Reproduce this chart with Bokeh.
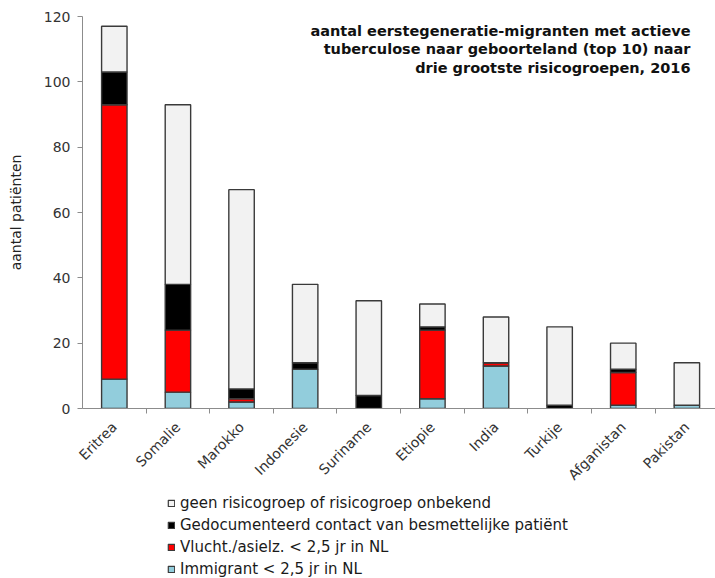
import math
from bokeh.plotting import figure
from bokeh.layouts import column
from bokeh.models import Range1d, FixedTicker, Legend, LegendItem, Label
from bokeh.embed import file_html
from bokeh.resources import INLINE

countries = ["Eritrea", "Somalie", "Marokko", "Indonesie", "Suriname",
             "Etiopie", "India", "Turkije", "Afganistan", "Pakistan"]
immigrant = [9, 5, 2, 12, 0, 3, 13, 0, 1, 1]
vlucht = [84, 19, 1, 0, 0, 21, 1, 0, 10, 0]
contact = [10, 14, 3, 2, 4, 1, 0, 1, 1, 0]
geen = [14, 55, 61, 24, 29, 7, 14, 24, 8, 13]

series_keys = ["immigrant", "vlucht", "contact", "geen"]
series_labels = ["Immigrant < 2,5 jr in NL",
                 "Vlucht./asielz. < 2,5 jr in NL",
                 "Gedocumenteerd contact van besmettelijke patiënt",
                 "geen risicogroep of risicogroep onbekend"]
series_colors = ["#92cddc", "#ff0000", "#000000", "#f2f2f2"]
y_ticks = [0, 20, 40, 60, 80, 100, 120]
title_lines = ["aantal eerstegeneratie-migranten met actieve",
               "tuberculose naar geboorteland (top 10) naar",
               "drie grootste risicogroepen, 2016"]
y_label = "aantal patiënten"

FONT = "DejaVu Sans"
OUTLINE = "#3a3a3a"
x = list(range(len(countries)))
data = dict(x=x, immigrant=immigrant, vlucht=vlucht, contact=contact, geen=geen)

p = figure(frame_width=633, frame_height=392, x_range=Range1d(-0.5, 9.45), y_range=Range1d(0, 120),
           output_backend="svg", toolbar_location=None,
           min_border_left=82, min_border_top=16, min_border_right=0, min_border_bottom=84)
p.outline_line_color = None
p.xgrid.grid_line_color = None
p.ygrid.grid_line_color = None

p.vbar_stack(series_keys, x="x", width=0.4, source=data,
             fill_color=series_colors, line_color=OUTLINE, line_width=1.4)

# axes
p.yaxis.ticker = FixedTicker(ticks=y_ticks)
p.yaxis.axis_label = y_label
p.yaxis.axis_label_text_font = FONT
p.yaxis.axis_label_text_font_style = "normal"
p.yaxis.axis_label_text_font_size = "14px"
p.yaxis.axis_label_text_color = "#222222"
p.yaxis.axis_label_standoff = 17
p.yaxis.major_label_text_font = FONT
p.yaxis.major_label_text_font_size = "14px"
p.yaxis.major_label_text_color = "#333333"
p.yaxis.major_label_standoff = 7
p.yaxis.axis_line_color = "#8c8c8c"
p.yaxis.major_tick_line_color = "#8c8c8c"
p.yaxis.major_tick_in = 0
p.yaxis.major_tick_out = 5
p.yaxis.minor_tick_line_color = None

p.xaxis.ticker = FixedTicker(ticks=x, minor_ticks=[i + 0.5 for i in x])
p.xaxis.major_label_overrides = {i: c for i, c in enumerate(countries)}
p.xaxis.major_label_orientation = math.pi / 4
p.xaxis.major_label_text_font = FONT
p.xaxis.major_label_text_font_size = "14px"
p.xaxis.major_label_text_color = "#333333"
p.xaxis.major_label_standoff = 10
p.xaxis.axis_line_color = "#8c8c8c"
p.xaxis.major_tick_line_color = None
p.xaxis.minor_tick_line_color = "#8c8c8c"
p.xaxis.minor_tick_in = 0
p.xaxis.minor_tick_out = 5

# title (screen coordinates relative to the plot frame)
for i, line in enumerate(title_lines):
    p.add_layout(Label(x=608, y=378 - i * 18.5, x_units="screen", y_units="screen",
                       text=line, text_align="right", text_baseline="middle",
                       text_font=FONT, text_font_style="bold", text_font_size="14.5px",
                       text_color="#111111"))

# legend in a separate strip below the chart
lg = figure(width=715, height=86, x_range=Range1d(0, 1), y_range=Range1d(0, 1),
            output_backend="svg", toolbar_location=None,
            min_border_left=0, min_border_right=0, min_border_top=0, min_border_bottom=0)
lg.axis.visible = False
lg.grid.grid_line_color = None
lg.outline_line_color = None
# legend proxies: zero-height bars placed outside the visible range
proxies = [lg.vbar(x=[-5], top=[0], width=0.4, fill_color=c, line_color=OUTLINE, line_width=1.2)
           for c in series_colors]
items = [LegendItem(label=lab, renderers=[r]) for lab, r in zip(series_labels, proxies)][::-1]
legend = Legend(items=items, location=(85, 0), orientation="vertical",
                label_text_font=FONT, label_text_font_size="15px", label_text_color="#1a1a1a",
                glyph_width=8, glyph_height=8, label_height=17, spacing=4,
                label_standoff=5, padding=0, margin=0,
                border_line_color=None, background_fill_alpha=0)
lg.add_layout(legend, "center")

layout = column(p, lg, spacing=0)
open("out.html", "w").write(file_html(layout, INLINE))
